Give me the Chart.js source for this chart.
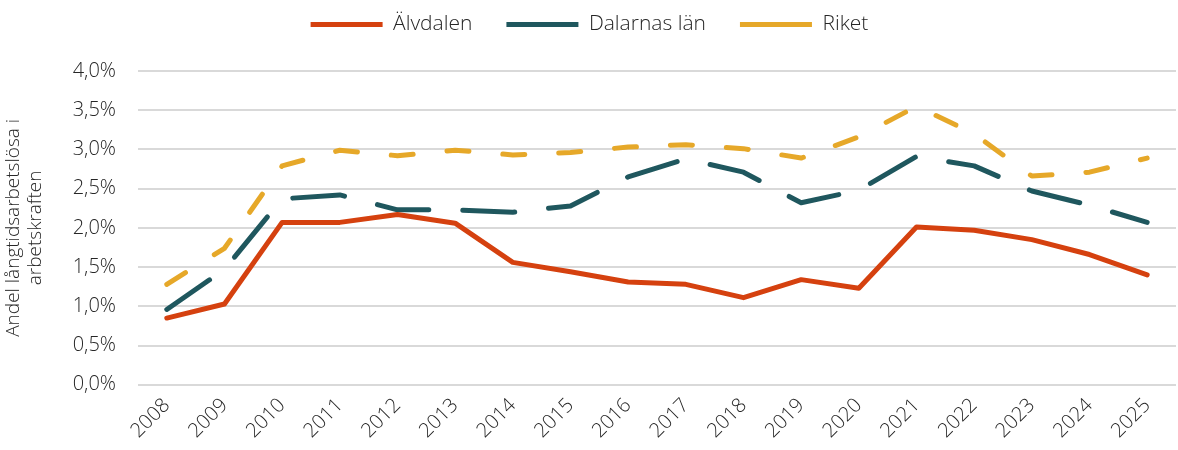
<!DOCTYPE html>
<html>
<head>
<meta charset="utf-8">
<script src="https://cdn.jsdelivr.net/npm/chart.js@4/dist/chart.umd.min.js"></script>
<style>
html,body{margin:0;padding:0;background:#fff;}
#wrap{width:1178px;height:450px;position:relative;}
</style>
</head>
<body>
<div id="wrap"><canvas id="c"></canvas></div>
<script>
const years = ["2008","2009","2010","2011","2012","2013","2014","2015","2016","2017","2018","2019","2020","2021","2022","2023","2024","2025"];
const alvdalen = [0.85,1.03,2.07,2.07,2.17,2.06,1.56,1.44,1.31,1.28,1.11,1.34,1.23,2.01,1.97,1.85,1.66,1.40];
const dalarna  = [0.96,1.47,2.37,2.42,2.23,2.23,2.20,2.28,2.65,2.88,2.71,2.32,2.48,2.91,2.79,2.47,2.29,2.07];
const riket    = [1.28,1.74,2.79,2.99,2.92,2.99,2.93,2.96,3.03,3.06,3.01,2.89,3.16,3.55,3.20,2.66,2.71,2.89];
const yTitle = ["Andel långtidsarbetslösa i","arbetskraften"];

const FONT = "'Open Sans', Lato, sans-serif";
Chart.defaults.font.family = FONT;
Chart.defaults.font.weight = '300';
Chart.defaults.color = '#262626';

const legendSpacer = {
  id: 'legendSpacer',
  beforeInit(chart) {
    const orig = chart.legend.fit;
    chart.legend.fit = function() { orig.bind(chart.legend)(); this.height += 26; };
  }
};

new Chart(document.getElementById('c'), {
  type: 'line',
  data: {
    labels: years,
    datasets: [
      {label: 'Älvdalen', data: alvdalen, borderColor: '#D5410F', backgroundColor: '#D5410F', borderWidth: 5, pointRadius: 0, borderCapStyle: 'round', borderJoinStyle: 'round', tension: 0},
      {label: 'Dalarnas län', data: dalarna, borderColor: '#1F575E', backgroundColor: '#1F575E', borderWidth: 5, pointRadius: 0, borderDash: [52, 34], borderCapStyle: 'round', borderJoinStyle: 'round', tension: 0},
      {label: 'Riket', data: riket, borderColor: '#E6A829', backgroundColor: '#E6A829', borderWidth: 5, pointRadius: 0, borderDash: [22, 34], borderCapStyle: 'round', borderJoinStyle: 'round', tension: 0}
    ]
  },
  options: {
    responsive: true,
    maintainAspectRatio: false,
    animation: false,
    layout: {padding: {top: -20, right: 2, left: 3, bottom: -2}},
    plugins: {
      legend: {
        display: true,
        position: 'top',
        labels: {
          usePointStyle: true,
          pointStyle: 'line',
          pointStyleWidth: 72,
          boxHeight: 5,
          padding: 34,
          color: '#262626',
          font: {size: 21, family: FONT, weight: '300'}
        }
      },
      tooltip: {enabled: false}
    },
    scales: {
      x: {
        offset: true,
        grid: {display: false, drawTicks: false, offset: true},
        border: {display: false},
        ticks: {
          minRotation: 45, maxRotation: 45, padding: 9,
          color: '#262626',
          font: {size: 20, family: FONT, weight: '300'}
        }
      },
      y: {
        min: 0, max: 4,
        border: {display: false},
        grid: {color: '#d9d9d9', lineWidth: 2, drawTicks: false},
        ticks: {
          stepSize: 0.5, padding: 22,
          color: '#262626',
          font: {size: 20, family: FONT, weight: '300'},
          callback: v => v.toFixed(1).replace('.', ',') + '%'
        },
        title: {
          display: true,
          text: yTitle,
          color: '#262626',
          font: {size: 19, family: FONT, weight: '300', lineHeight: 1.15},
          padding: {top: 0, bottom: 4}
        }
      }
    }
  },
  plugins: [legendSpacer]
});
</script>
</body>
</html>
